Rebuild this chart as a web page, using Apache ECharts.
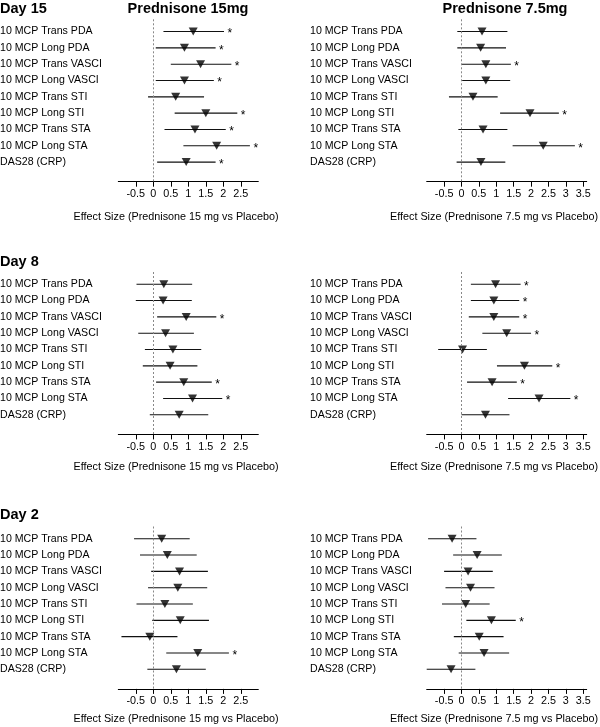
<!DOCTYPE html>
<html>
<head>
<meta charset="utf-8">
<script src="https://cdn.jsdelivr.net/npm/echarts@6/dist/echarts.min.js"></script>
<style>
html,body{margin:0;padding:0;background:#fff;}
#chart{width:600px;height:727px;}
</style>
</head>
<body>
<div id="chart"></div>
<script>
const categories = ['10 MCP Trans PDA','10 MCP Long PDA','10 MCP Trans VASCI','10 MCP Long VASCI','10 MCP Trans STI','10 MCP Long STI','10 MCP Trans STA','10 MCP Long STA','DAS28 (CRP)'];
const dayTitles = ['Day 15','Day 8','Day 2'];
const doseTitles = ['Prednisone 15mg','Prednisone 7.5mg'];
const axisTitles = ['Effect Size (Prednisone 15 mg vs Placebo)','Effect Size (Prednisone 7.5 mg vs Placebo)'];
const tickValues15 = [-0.5,0,0.5,1,1.5,2,2.5];
const tickValues75 = [-0.5,0,0.5,1,1.5,2,2.5,3,3.5];

// Day 15, Prednisone 15 mg
const d15p15Est  = [1.14,0.89,1.35,0.89,0.64,1.50,1.19,1.81,0.94];
const d15p15Low  = [0.29,0.07,0.50,0.07,-0.15,0.61,0.32,0.86,0.11];
const d15p15High = [2.02,1.78,2.23,1.73,1.45,2.40,2.07,2.76,1.78];
const d15p15Sig  = [1,1,1,1,0,1,1,1,1];
// Day 15, Prednisone 7.5 mg
const d15p75Est  = [0.59,0.55,0.70,0.70,0.33,1.97,0.62,2.35,0.56];
const d15p75Low  = [-0.12,-0.12,0.00,0.02,-0.36,1.11,-0.09,1.47,-0.14];
const d15p75High = [1.32,1.28,1.42,1.40,1.04,2.80,1.32,3.26,1.26];
const d15p75Sig  = [0,0,1,0,0,1,0,1,0];
// Day 8, Prednisone 15 mg
const d8p15Est  = [0.30,0.28,0.94,0.35,0.56,0.48,0.87,1.12,0.74];
const d8p15Low  = [-0.48,-0.50,0.11,-0.43,-0.24,-0.30,0.08,0.28,-0.10];
const d8p15High = [1.11,1.10,1.80,1.16,1.37,1.26,1.67,1.97,1.57];
const d8p15Sig  = [0,0,1,0,0,0,1,1,0];
// Day 8, Prednisone 7.5 mg
const d8p75Est  = [0.98,0.93,0.93,1.30,0.03,1.81,0.88,2.23,0.69];
const d8p75Low  = [0.27,0.27,0.21,0.60,-0.67,1.02,0.16,1.34,0.00];
const d8p75High = [1.70,1.66,1.66,2.00,0.73,2.61,1.59,3.13,1.38];
const d8p75Sig  = [1,1,1,1,0,1,1,1,0];
// Day 2, Prednisone 15 mg
const d2p15Est  = [0.24,0.40,0.75,0.70,0.33,0.77,-0.10,1.27,0.66];
const d2p15Low  = [-0.55,-0.38,-0.06,-0.15,-0.48,-0.03,-0.91,0.37,-0.17];
const d2p15High = [1.04,1.24,1.56,1.54,1.13,1.59,0.69,2.16,1.50];
const d2p15Sig  = [0,0,0,0,0,0,0,1,0];
// Day 2, Prednisone 7.5 mg
const d2p75Est  = [-0.27,0.45,0.19,0.26,0.12,0.86,0.51,0.65,-0.30];
const d2p75Low  = [-0.96,-0.24,-0.50,-0.46,-0.56,0.14,-0.22,-0.08,-1.00];
const d2p75High = [0.43,1.16,0.90,0.95,0.81,1.56,1.21,1.37,0.40];
const d2p75Sig  = [0,0,0,0,0,1,0,0,0];

const panels = [
  [[d15p15Est,d15p15Low,d15p15High,d15p15Sig],[d15p75Est,d15p75Low,d15p75High,d15p75Sig]],
  [[d8p15Est,d8p15Low,d8p15High,d8p15Sig],[d8p75Est,d8p75Low,d8p75High,d8p75Sig]],
  [[d2p15Est,d2p15Low,d2p15High,d2p15Sig],[d2p75Est,d2p75Low,d2p75High,d2p75Sig]]
];

const FONT = '"Liberation Sans", Arial, sans-serif';
const gridLefts = [118.3, 426.7];
const gridWidths = [140, 160];
const labelX = [0, 310];
const xMax = [3, 3.6];
const sectionTops = [19.3, 272, 526.5];
const gridHeight = 162.4;

const grid = [], xAxis = [], yAxis = [], series = [], graphic = [];
let idx = 0;
for (let s = 0; s < 3; s++) {
  for (let p = 0; p < 2; p++) {
    const [est, low, high, sig] = panels[s][p];
    grid.push({left: gridLefts[p], top: sectionTops[s], width: gridWidths[p], height: gridHeight, containLabel: false});
    const ticks = p === 0 ? tickValues15 : tickValues75;
    xAxis.push({
      type: 'value', gridIndex: idx, min: -1, max: xMax[p],
      axisLine: {show: true, lineStyle: {color: '#000', width: 1}},
      axisTick: {show: true, customValues: ticks, length: 5, lineStyle: {color: '#000'}},
      axisLabel: {customValues: ticks, color: '#000', fontSize: 10.8, fontFamily: FONT, margin: 7},
      splitLine: {show: false}
    });
    yAxis.push({
      type: 'value', gridIndex: idx, inverse: true, min: 0.25, max: 10.2,
      axisLine: {show: false}, axisTick: {show: false}, splitLine: {show: false},
      axisLabel: {show: false}
    });
    const lx = labelX[p];
    const ciData = est.map((e, i) => [low[i], high[i], i + 1, sig[i], i]);
    series.push({
      type: 'custom', xAxisIndex: idx, yAxisIndex: idx, silent: true, clip: false,
      data: ciData,
      renderItem: function (params, api) {
        const a = api.coord([api.value(0), api.value(2)]);
        const b = api.coord([api.value(1), api.value(2)]);
        const children = [
          {type: 'text', x: lx, y: a[1],
            style: {text: categories[api.value(4)], fill: '#000', font: '10.6px ' + FONT, textAlign: 'left', textVerticalAlign: 'middle'}},
          {type: 'line', shape: {x1: a[0], y1: a[1], x2: b[0], y2: b[1]},
            style: {stroke: '#111', lineWidth: 1.1}}
        ];
        if (api.value(3) === 1) {
          children.push({type: 'text', x: b[0] + 3.5, y: b[1] + 2.5,
            style: {text: '*', fill: '#000', font: '12px ' + FONT, textAlign: 'left', textVerticalAlign: 'middle'}});
        }
        return {type: 'group', children};
      },
      markLine: {
        silent: true, symbol: ['none', 'none'], label: {show: false},
        lineStyle: {type: [2, 2], color: '#888', width: 1},
        data: [{xAxis: 0}]
      }
    });
    series.push({
      type: 'scatter', xAxisIndex: idx, yAxisIndex: idx, silent: true,
      symbol: 'triangle', symbolRotate: 180, symbolSize: [9, 8],
      itemStyle: {color: '#000'},
      data: est.map((e, i) => [e, i + 1])
    });
    idx++;
  }
}

const dayY = [8.5, 261.5, 515];
dayTitles.forEach((t, s) => graphic.push({type: 'text', x: 0, y: dayY[s],
  style: {text: t, font: 'bold 14.5px ' + FONT, fill: '#000', textAlign: 'left', textVerticalAlign: 'middle'}}));
const doseX = [188, 505];
doseTitles.forEach((t, p) => graphic.push({type: 'text', x: doseX[p], y: 8.5,
  style: {text: t, font: 'bold 14.5px ' + FONT, fill: '#000', textAlign: 'center', textVerticalAlign: 'middle'}}));
const axisTitleX = [176, 494];
const axisTitleY = [217, 467, 719];
for (let s = 0; s < 3; s++) {
  for (let p = 0; p < 2; p++) {
    graphic.push({type: 'text', x: axisTitleX[p], y: axisTitleY[s],
      style: {text: axisTitles[p], font: '10.8px ' + FONT, fill: '#000', textAlign: 'center', textVerticalAlign: 'middle'}});
  }
}

const chart = echarts.init(document.getElementById('chart'), null, {renderer: 'canvas'});
chart.setOption({
  backgroundColor: '#fff',
  animation: false,
  grid, xAxis, yAxis, series, graphic
});
</script>
</body>
</html>
